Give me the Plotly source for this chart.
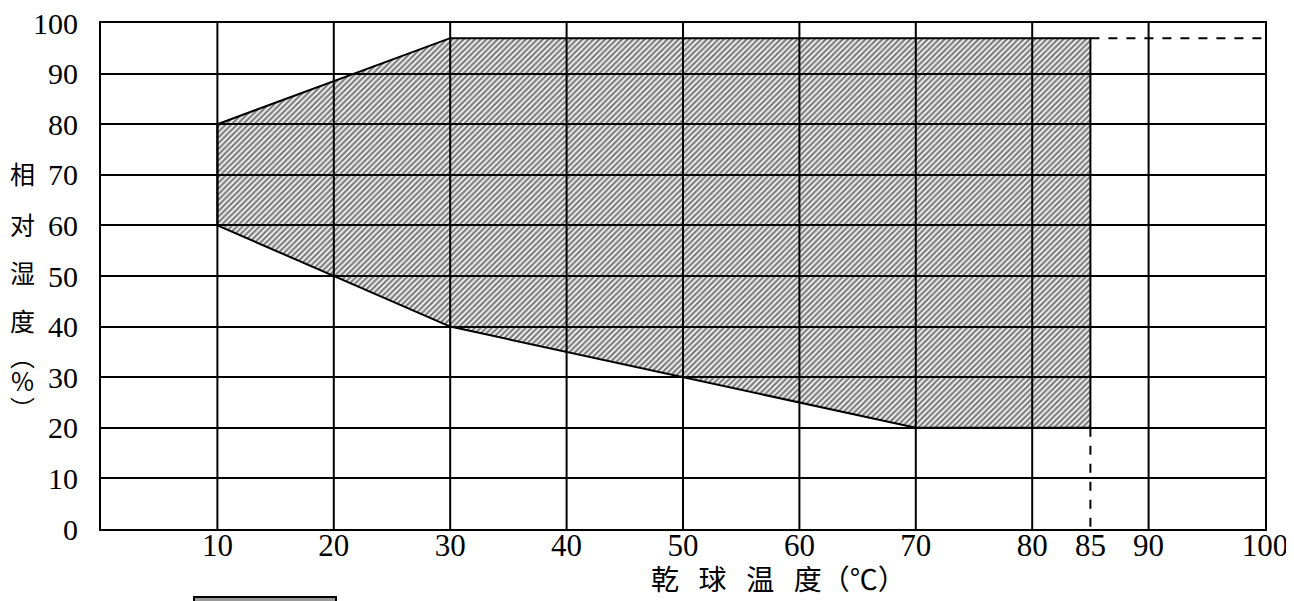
import plotly.graph_objects as go

# ---- data ----
# operating region (dry-bulb temperature °C, relative humidity %)
region_temp = [10, 10, 30, 85, 85, 70, 30, 10]
region_rh = [60, 80, 97, 97, 20, 20, 40, 60]
# dashed extension lines
ext_h_temp = [85, 100]
ext_h_rh = [97, 97]
ext_v_temp = [85, 85]
ext_v_rh = [20, 0]
# axes
x_tickvals = [10, 20, 30, 40, 50, 60, 70, 80, 85, 90, 100]
x_gridvals = [10, 20, 30, 40, 50, 60, 70, 80, 90]
y_tickvals = [0, 10, 20, 30, 40, 50, 60, 70, 80, 90, 100]
x_title = "乾\u2002\u2009球\u2002\u2009温\u2002\u2009度（℃）"
y_title_chars = ["相", "对", "湿", "度", "︵", "%", "︶"]

W, H = 1294, 601
OFF = 8  # page body margin
def px_x(p):
    return (p - OFF) / W
def px_y(p):
    return 1 - (p - OFF) / H

fig = go.Figure()

fig.add_trace(go.Scatter(
    x=region_temp, y=region_rh, mode="lines", fill="toself",
    fillcolor="rgba(0,0,0,0)",
    fillpattern=dict(shape="/", size=4, solidity=0.6, fgcolor="#000",
                     bgcolor="rgba(0,0,0,0)"),
    line=dict(color="black", width=2), showlegend=False, hoverinfo="skip"))

fig.add_trace(go.Scatter(x=ext_h_temp, y=ext_h_rh, mode="lines",
                         line=dict(color="black", width=2, dash="dash"),
                         showlegend=False))
fig.add_trace(go.Scatter(x=ext_v_temp, y=ext_v_rh, mode="lines",
                         line=dict(color="black", width=2, dash="dash"),
                         showlegend=False))

shapes = []
for gx in x_gridvals:
    shapes.append(dict(type="line", xref="x", yref="y", x0=gx, x1=gx,
                       y0=0, y1=100, line=dict(color="black", width=2),
                       layer="above"))
# cut-off legend swatch at the bottom
shapes.append(dict(type="rect", xref="paper", yref="paper",
                   x0=px_x(194), x1=px_x(336), y0=px_y(640), y1=px_y(597),
                   line=dict(color="black", width=2), fillcolor="#999999"))

annotations = []
y_char_pos = [173, 224, 272, 320, 355, 380, 408]
for ch, yp in zip(y_title_chars, y_char_pos):
    annotations.append(dict(text=ch, xref="paper", yref="paper",
                            x=px_x(22), y=px_y(yp), showarrow=False,
                            xanchor="center", yanchor="middle",
                            font=dict(family="Noto Sans CJK SC", size=25,
                                      color="black")))
annotations.append(dict(text=x_title, xref="paper", yref="paper",
                        x=px_x(778), y=px_y(578), showarrow=False,
                        xanchor="center", yanchor="middle",
                        font=dict(family="Noto Sans CJK SC", size=28,
                                  color="black")))

fig.update_layout(
    width=W, height=H,
    margin=dict(l=0, r=0, t=0, b=0, autoexpand=False),
    paper_bgcolor="white", plot_bgcolor="white",
    shapes=shapes, annotations=annotations,
    xaxis=dict(domain=[px_x(101), px_x(1265)], range=[0, 100],
               automargin=False, ticklabeloverflow="allow",
               tickmode="array", tickvals=x_tickvals,
               ticktext=[str(v) for v in x_tickvals],
               showgrid=False, zeroline=False,
               showline=True, linecolor="black", linewidth=2, mirror=True,
               ticks="", ticklabelstandoff=-12,
               tickfont=dict(family="Liberation Serif", size=31,
                             color="black")),
    yaxis=dict(domain=[px_y(529), px_y(23)], range=[0, 100],
               automargin=False, ticklabeloverflow="allow",
               tickmode="array", tickvals=y_tickvals,
               showgrid=True, gridcolor="black", gridwidth=2,
               zeroline=False,
               showline=True, linecolor="black", linewidth=2, mirror=True,
               ticks="", ticklabelstandoff=15,
               tickfont=dict(family="Liberation Serif", size=30,
                             color="black")),
)

fig.write_html("out.html")
